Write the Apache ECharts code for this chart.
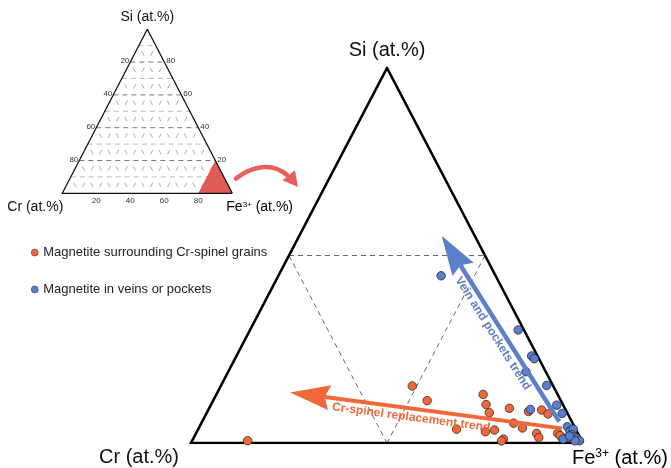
<!DOCTYPE html>
<html><head><meta charset="utf-8">
<script src="https://cdn.jsdelivr.net/npm/echarts@6/dist/echarts.min.js"></script>
<style>html,body{margin:0;padding:0;background:#fff}#c{width:671px;height:468px}</style>
</head><body><div id="c"></div>
<script>
// ---------- data (at.%) ----------
const seriesNames = ['Magnetite surrounding Cr-spinel grains', 'Magnetite in veins or pockets'];
const siOrange = [3.04, 2.26, 2.59, 2.05, 1.62, 1.85, 1.68, 1.76, 1.55, 0.74, 0.60, 0.69, 1.06, 0.80, 0.51, 0.29, 0.52, 0.28, 0.21, 0.11, 0.12, 0.40];
const crOrange = [7.19, 6.82, 3.80, 3.92, 3.97, 2.83, 1.94, 1.23, 1.01, 6.08, 4.68, 4.17, 3.01, 2.69, 2.11, 2.11, 1.03, 0.93, 3.95, 4.10, 17.05, 0.97];
const siBlue = [8.92, 6.03, 4.64, 4.50, 3.80, 3.07, 2.02, 1.58, 1.79, 0.87, 0.64, 0.73, 0.45, 0.34, 0.25, 0.28, 0.21, 0.12, 0.12, 0.37];
const crBlue = [2.78, 0.29, 0.30, 0.24, 1.01, 0.32, 0.33, 0.27, 1.79, 0.36, 0.34, 0.13, 0.35, 0.27, 0.20, 0.66, 0.91, 0.12, 0.35, 0.50];
const axisTitles = ['Si (at.%)', 'Cr (at.%)', 'Fe'];
const insetTicks = [20, 40, 60, 80];
const insetGrid = [10, 20, 30, 40, 50, 60, 70, 80, 90];
const mainSpan = 20;   // main triangle: Si 0–20, Cr 0–20 (Fe 80–100)
const insetSpan = 100;
const trendNames = ['Cr-spinel replacement trend', 'Vein and pockets trend'];
// trend arrows: [Si, Cr] tail -> head
const orangeTrend = [[0.78, 0.69], [2.70, 13.6]];
const blueTrend = [[1.14, 0.64], [11.06, 1.68]];

const FONT = 'Liberation Sans, Arial, sans-serif';
const ORANGE = '#f0683a', BLUE = '#5b7fc8';

function tern(si, cr, span) { const s = si / span, c = cr / span; return [1 - c - s / 2, s]; }

const chart = echarts.init(document.getElementById('c'), null, { renderer: 'canvas', width: 671, height: 468 });

function lineSeries(pts, grid, style, z) {
  return { type: 'line', xAxisIndex: grid, yAxisIndex: grid, data: pts, symbol: 'none', silent: true,
    lineStyle: style, z: z || 1, animation: false, legendHoverLink: false };
}

const series = [];
// main triangle outline
series.push(lineSeries([tern(0, 0, mainSpan), tern(0, mainSpan, mainSpan), tern(mainSpan, 0, mainSpan), tern(0, 0, mainSpan)], 0,
  { color: '#000', width: 2.6, join: 'miter' }, 3));
// dashed medial triangle
const h = mainSpan / 2;
series.push(lineSeries([tern(h, h, mainSpan), tern(h, 0, mainSpan)], 0, { color: '#555', width: 0.9, type: [5, 4] }, 2));
series.push(lineSeries([tern(h, h, mainSpan), tern(0, h, mainSpan)], 0, { color: '#555', width: 0.9, type: [5, 4] }, 2));
series.push(lineSeries([tern(h, 0, mainSpan), tern(0, h, mainSpan)], 0, { color: '#555', width: 0.9, type: [5, 4] }, 2));

// inset grid
insetGrid.forEach(k => {
  const dark = k % 20 === 0;
  series.push(lineSeries([tern(k, 100 - k, insetSpan), tern(k, 0, insetSpan)], 1,
    { color: dark ? '#555' : '#aaa', width: 0.8, type: [5, 4] }, 1));
  series.push(lineSeries([tern(0, k, insetSpan), tern(100 - k, k, insetSpan)], 1,
    { color: '#888', width: 0.7, type: [5, 13.5], dashOffset: -7 }, 1));
  series.push(lineSeries([tern(0, 100 - k, insetSpan), tern(100 - k, 0, insetSpan)], 1,
    { color: '#888', width: 0.7, type: [5, 13.5], dashOffset: -7 }, 1));
});
// red zoom region in inset
series.push({ type: 'line', xAxisIndex: 1, yAxisIndex: 1, symbol: 'none', silent: true, animation: false,
  data: [tern(0, 20, insetSpan), tern(20, 0, insetSpan), tern(0, 0, insetSpan), tern(0, 20, insetSpan)],
  lineStyle: { width: 0 }, areaStyle: { color: '#e05c55', opacity: 1, origin: 'start' }, z: 2 });
// inset outline
series.push(lineSeries([tern(0, 0, insetSpan), tern(0, 100, insetSpan), tern(100, 0, insetSpan), tern(0, 0, insetSpan)], 1,
  { color: '#111', width: 1.3, join: 'miter' }, 3));

// data
series.push({ name: seriesNames[0], type: 'scatter', xAxisIndex: 0, yAxisIndex: 0, symbolSize: 8.5, z: 5,
  data: siOrange.map((s, i) => tern(s, crOrange[i], mainSpan)),
  itemStyle: { color: ORANGE, borderColor: '#3a2a20', borderWidth: 0.8, opacity: 1 } });
series.push({ name: seriesNames[1], type: 'scatter', xAxisIndex: 0, yAxisIndex: 0, symbolSize: 8.5, z: 6,
  data: siBlue.map((s, i) => tern(s, crBlue[i], mainSpan)),
  itemStyle: { color: BLUE, borderColor: '#1f2a44', borderWidth: 0.8, opacity: 1 } });

chart.setOption({
  animation: false,
  backgroundColor: '#fff',
  grid: [
    { left: 191, top: 68, width: 392, height: 375 },
    { left: 62.3, top: 29.3, width: 170, height: 164 }
  ],
  xAxis: [
    { type: 'value', gridIndex: 0, min: 0, max: 1, show: false },
    { type: 'value', gridIndex: 1, min: 0, max: 1, show: false }
  ],
  yAxis: [
    { type: 'value', gridIndex: 0, min: 0, max: 1, show: false },
    { type: 'value', gridIndex: 1, min: 0, max: 1, show: false }
  ],
  legend: {
    orient: 'vertical', left: 26, top: 241, itemWidth: 7, itemHeight: 7, itemGap: 24,
    data: seriesNames.map(n => ({ name: n, itemStyle: { borderWidth: 0.5 } })), selectedMode: false,
    textStyle: { fontSize: 13, color: '#222', fontFamily: FONT }
  },
  series: series
});

// ---------- annotations ----------
const P = (g, si, cr, span) => chart.convertToPixel({ gridIndex: g }, tern(si, cr, span));
const graphics = [];

function arrow(a, b, color, w, hl, hw) {
  const dx = b[0] - a[0], dy = b[1] - a[1], L = Math.hypot(dx, dy);
  const ux = dx / L, uy = dy / L, nx = -uy, ny = ux;
  const base = [b[0] - ux * hl, b[1] - uy * hl];
  const notch = [b[0] - ux * (hl - 5), b[1] - uy * (hl - 5)];
  graphics.push({ type: 'line', shape: { x1: a[0], y1: a[1], x2: notch[0], y2: notch[1] },
    style: { stroke: color, lineWidth: w }, z: 10 });
  graphics.push({ type: 'polygon', shape: { points: [b, [base[0] + nx * hw, base[1] + ny * hw], notch, [base[0] - nx * hw, base[1] - ny * hw]] },
    style: { fill: color }, z: 10 });
}

const oa = P(0, orangeTrend[0][0], orangeTrend[0][1], mainSpan), ob = P(0, orangeTrend[1][0], orangeTrend[1][1], mainSpan);
const ba = P(0, blueTrend[0][0], blueTrend[0][1], mainSpan), bb = P(0, blueTrend[1][0], blueTrend[1][1], mainSpan);
arrow(oa, ob, ORANGE, 4, 40, 12.5);
arrow(ba, bb, BLUE, 4.5, 40, 12.5);

// trend labels (placed beside the shafts, reading along them)
function trendLabel(tail, head, t, off, text, color) {
  const ang = Math.atan2(tail[1] - head[1], tail[0] - head[0]);
  const cx = head[0] + (tail[0] - head[0]) * t, cy = head[1] + (tail[1] - head[1]) * t;
  graphics.push({ type: 'text', x: cx - Math.sin(ang) * off, y: cy + Math.cos(ang) * off, rotation: -ang,
    style: { text: text, fill: color, font: 'bold 12px ' + FONT, textAlign: 'center', textVerticalAlign: 'middle' }, z: 11 });
}
trendLabel(oa, ob, 0.45, 9, trendNames[0], ORANGE);
trendLabel(ba, bb, 0.5, 9, trendNames[1], BLUE);

// main axis titles
const apex = P(0, mainSpan, 0, mainSpan), lc = P(0, 0, mainSpan, mainSpan), rc = P(0, 0, 0, mainSpan);
graphics.push({ type: 'text', x: apex[0], y: apex[1] - 18, style: { text: axisTitles[0], font: '20px ' + FONT, fill: '#111', textAlign: 'center', textVerticalAlign: 'middle' } });
graphics.push({ type: 'text', x: lc[0] - 12, y: lc[1] + 14, style: { text: axisTitles[1], font: '20px ' + FONT, fill: '#111', textAlign: 'right', textVerticalAlign: 'middle' } });
graphics.push({ type: 'text', x: rc[0] - 11, y: rc[1] + 15, style: {
  text: '{b|' + axisTitles[2] + '}{s|3+}{b| (at.%)}', textVerticalAlign: 'middle', textAlign: 'left',
  rich: { b: { font: '20px ' + FONT, color: '#111' }, s: { font: '12px ' + FONT, color: '#111', verticalAlign: 'top', padding: [0, 0, 8, 0] } } } });

// inset titles
const iApex = P(1, 100, 0, insetSpan), iL = P(1, 0, 100, insetSpan), iR = P(1, 0, 0, insetSpan);
graphics.push({ type: 'text', x: iApex[0], y: iApex[1] - 12, style: { text: axisTitles[0], font: '14px ' + FONT, fill: '#111', textAlign: 'center', textVerticalAlign: 'middle' } });
graphics.push({ type: 'text', x: iL[0] - 55, y: iL[1] + 14, style: { text: axisTitles[1], font: '14px ' + FONT, fill: '#111', textAlign: 'left', textVerticalAlign: 'middle' } });
graphics.push({ type: 'text', x: iR[0] - 6, y: iR[1] + 14, style: {
  text: '{b|' + axisTitles[2] + '}{s|3+}{b| (at.%)}', textVerticalAlign: 'middle', textAlign: 'left',
  rich: { b: { font: '14px ' + FONT, color: '#111' }, s: { font: '8px ' + FONT, color: '#111', verticalAlign: 'top', padding: [0, 0, 6, 0] } } } });

// inset tick labels
insetTicks.forEach(k => {
  const l = P(1, 100 - k, k, insetSpan);
  graphics.push({ type: 'text', x: l[0] - 1, y: l[1] - 1, style: { text: String(k), font: '8px ' + FONT, fill: '#333', textAlign: 'right', textVerticalAlign: 'middle' } });
  const r = P(1, k, 0, insetSpan);
  graphics.push({ type: 'text', x: r[0] + 2, y: r[1] - 1, style: { text: String(k), font: '8px ' + FONT, fill: '#333', textAlign: 'left', textVerticalAlign: 'middle' } });
  const b = P(1, 0, 100 - k, insetSpan);
  graphics.push({ type: 'text', x: b[0], y: b[1] + 7, style: { text: String(k), font: '8px ' + FONT, fill: '#333', textAlign: 'center', textVerticalAlign: 'middle' } });
});

// curved red pointer arrow
graphics.push({ type: 'bezierCurve', shape: { x1: 236, y1: 178.5, cpx1: 252, cpy1: 166, cpx2: 272, cpy2: 162, x2: 287, y2: 175 },
  style: { stroke: '#e8605a', lineWidth: 4.5, fill: null, lineCap: 'round' }, z: 10 });
(function () {
  const tip = [298, 187], dir = [0.62, 0.78], L = 15, W = 8;
  const base = [tip[0] - dir[0] * L, tip[1] - dir[1] * L], n = [-dir[1], dir[0]];
  graphics.push({ type: 'polygon', shape: { points: [tip, [base[0] + n[0] * W, base[1] + n[1] * W], [base[0] - n[0] * W, base[1] - n[1] * W]] },
    style: { fill: '#e8605a' }, z: 10 });
})();

chart.setOption({ graphic: graphics });
</script></body></html>
